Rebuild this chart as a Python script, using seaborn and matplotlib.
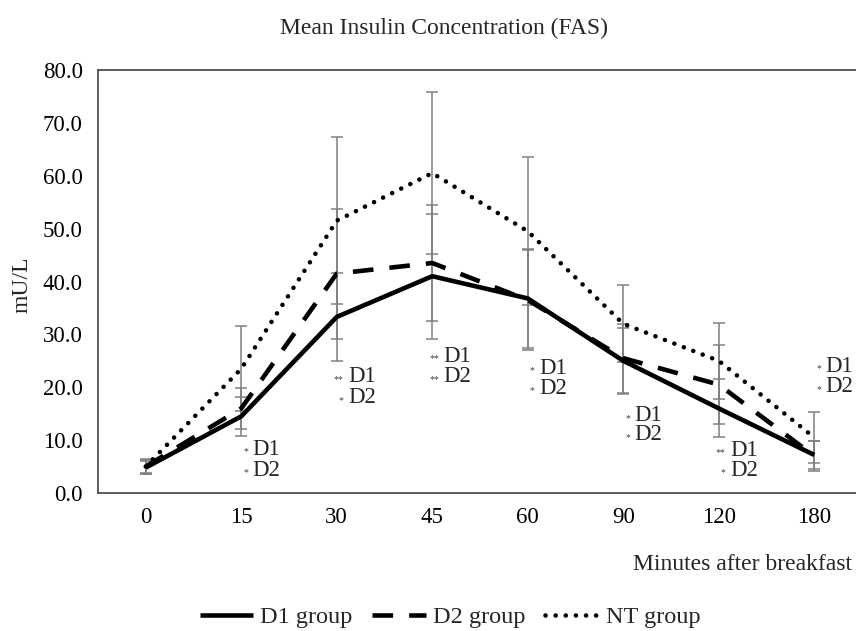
import matplotlib
matplotlib.use("Agg")
import matplotlib.pyplot as plt
import seaborn as sns
import pandas as pd
import numpy as np

# ---------------------------------------------------------
# data
# ---------------------------------------------------------
minutes = ["0", "15", "30", "45", "60", "90", "120", "180"]

d1_mean = [4.8, 14.5, 33.3, 41.0, 36.8, 25.0, 16.0, 7.2]
d2_mean = [5.0, 16.0, 41.5, 43.5, 36.5, 25.5, 20.5, 7.0]
nt_mean = [5.0, 23.5, 51.5, 60.5, 49.5, 32.0, 25.0, 10.5]

d1_err = [1.2, 3.7, 8.3, 11.8, 9.3, 6.3, 5.5, 2.6]
d2_err = [1.3, 3.9, 12.3, 11.0, 9.5, 6.5, 7.5, 2.8]
nt_err = [1.5, 8.0, 15.8, 15.3, 14.0, 7.3, 7.2, 4.8]

# significance labels: (time index, y, stars, label)
sig_idx = [1, 1, 2, 2, 3, 3, 4, 4, 5, 5, 6, 6, 7, 7]
sig_y = [8.3, 4.3, 22.0, 18.0, 25.9, 22.0, 23.6, 19.8, 14.6, 11.0, 8.1, 4.3, 24.0, 20.1]
sig_stars = ["*", "*", "**", "*", "**", "**", "*", "*", "*", "*", "**", "*", "*", "*"]
sig_text = ["D1", "D2"] * 7

groups = ["D1 group", "D2 group", "NT group"]

pos = np.arange(len(minutes))
df = pd.DataFrame({
    "pos": np.tile(pos, 3),
    "value": d1_mean + d2_mean + nt_mean,
    "err": d1_err + d2_err + nt_err,
    "group": np.repeat(groups, len(minutes)),
})

sns.set_style("white")
plt.rcParams["font.family"] = ["Liberation Serif", "DejaVu Serif"]

fig = plt.figure(figsize=(8.56, 6.31), dpi=100)
ax = fig.add_axes([98 / 856, 138 / 631, 764 / 856, 423 / 631])

# line styles per group
dash_map = {"D1 group": (None, None), "D2 group": (4.5, 3.5), "NT group": (0.01, 2.2)}
cap_map = {"D1 group": "butt", "D2 group": "butt", "NT group": "round"}

handles = []
for g in groups:
    sub = df[df["group"] == g]
    ax.errorbar(sub["pos"], sub["value"], yerr=sub["err"], fmt="none",
                ecolor="#808080", elinewidth=1.1, capsize=4, capthick=1.1,
                zorder=1)
    sns.lineplot(data=sub, x="pos", y="value", color="black", linewidth=3.3,
                 ax=ax, legend=False, estimator=None, zorder=3)
    line = ax.lines[-1]
    if g != "D1 group":
        line.set_dashes(dash_map[g])
    line.set_dash_capstyle(cap_map[g])
    line.set_solid_capstyle("butt")
    line.set_label(g)
    handles.append(line)

# significance annotations
for i, y, s, t in zip(sig_idx, sig_y, sig_stars, sig_text):
    ax.annotate(t, xy=(i, y), xytext=(8, 0), textcoords="offset points",
                ha="left", va="center", fontsize=16.5)
    ax.annotate(s, xy=(i, y), xytext=(5, -2), textcoords="offset points",
                ha="right", va="center", fontsize=7, color="#404040")

ax.set_xlim(-0.5, len(minutes) - 0.5)
ax.set_ylim(0, 80)
ax.set_xticks(pos)
ax.set_xticklabels(minutes)
ax.set_yticks(np.arange(0, 81, 10))
ax.set_yticklabels([f"{v:.1f}" for v in np.arange(0, 81, 10)])
ax.tick_params(axis="both", length=0, labelsize=16.5, colors="black")
ax.tick_params(axis="y", pad=11)
ax.tick_params(axis="x", pad=10)
ax.set_xlabel("")
ax.set_ylabel("")
for side in ["left", "bottom", "top", "right"]:
    ax.spines[side].set_color("#505050")
    ax.spines[side].set_linewidth(1.3)
ax.grid(False)

fig.text(444 / 856, 1 - 28 / 631, "Mean Insulin Concentration (FAS)",
         ha="center", va="center", fontsize=17)
fig.text(22 / 856, 1 - 285 / 631, "mU/L", rotation=90,
         ha="center", va="center", fontsize=17)
fig.text(852 / 856, 1 - 565 / 631, "Minutes after breakfast",
         ha="right", va="center", fontsize=17)

fig.legend(handles, groups, loc="center", bbox_to_anchor=(450 / 856, 1 - 617 / 631),
           ncol=3, frameon=False, fontsize=17.5, handlelength=2.2,
           columnspacing=0.8, handletextpad=0.3)

fig.savefig("out.png", dpi=100)
